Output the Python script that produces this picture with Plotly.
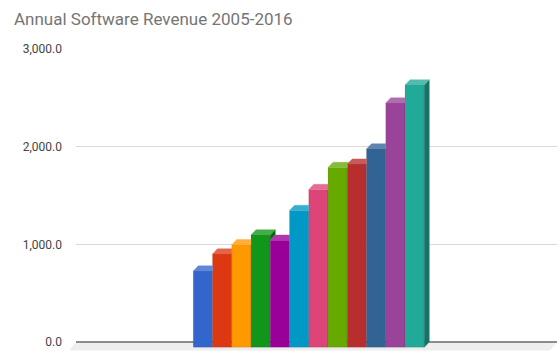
import plotly.graph_objects as go

# ---- data ----
years = [2005, 2006, 2007, 2008, 2009, 2010, 2011, 2012, 2013, 2014, 2015, 2016]
revenue = [780, 955, 1050, 1150, 1095, 1400, 1615, 1840, 1875, 2030, 2500, 2685]
colors = ["#3366cc", "#dc3912", "#ff9900", "#109618", "#990099", "#0099c6",
          "#dd4477", "#66aa00", "#b82e2e", "#316395", "#994499", "#22aa99"]
y_ticks = [0, 1000, 2000, 3000]
title_text = "Annual Software Revenue 2005-2016"

# ---- layout geometry ----
W, H = 560, 356
L, R, T, B = 76, 3, 49, 4
YMAX = 3000
k = (342 - 49) / YMAX                 # px per y unit
ymin = -((H - B) - 342) / k           # extend below zero so the 3D front sits lower
BAR_PX = 19.25                        # px per x unit (bar width = 1)
first_center_px = 202.9
xmin = years[0] - (first_center_px - L) / BAR_PX
xmax = xmin + (W - L - R) / BAR_PX
D = 5.2 / k                           # depth offset in y units
DX = 5.0 / BAR_PX                     # depth offset in x units


def _rgb(h):
    h = h.lstrip("#")
    return [int(h[i:i + 2], 16) for i in (0, 2, 4)]


def shade(h, f):
    r, g, b = _rgb(h)
    return "rgb(%d,%d,%d)" % (r * f, g * f, b * f)


def tint(h, f):
    r, g, b = _rgb(h)
    return "rgb(%d,%d,%d)" % (r + (255 - r) * f, g + (255 - g) * f, b + (255 - b) * f)


fig = go.Figure()

# front faces of the bars
fig.add_trace(go.Bar(
    x=years, y=revenue, base=[-D] * len(years), width=1,
    marker=dict(color=colors, line=dict(color="rgba(0,0,0,0.18)", width=0.5)),
    hoverinfo="skip", showlegend=False,
))

# visible top and side faces (3D effect), computed from the values
n = len(years)
for i, (yr, v, c) in enumerate(zip(years, revenue, colors)):
    x0, x1 = yr - 0.5, yr + 0.5
    vn = revenue[i + 1] if i + 1 < n else 0
    # side face (only the part above the next bar)
    if v > vn:
        xs = [x1, x1 + DX, x1 + DX, x1, x1]
        ys = [vn - D, vn, v, v - D, vn - D]
        fig.add_trace(go.Scatter(x=xs, y=ys, mode="lines", fill="toself",
                                 fillcolor=shade(c, 0.68), line=dict(width=0.4, color=shade(c, 0.68)),
                                 hoverinfo="skip", showlegend=False))
    # top face
    if i + 1 < n and vn > v:
        if vn - D < v:
            xs = [x0, x1, x1, x1 + (v - vn + D) / D * DX, x0 + DX, x0]
            ys = [v - D, v - D, vn - D, v, v, v - D]
        else:
            xs = [x0, x1, x1, x0 + DX, x0]
            ys = [v - D, v - D, v, v, v - D]
    else:
        xs = [x0, x1, x1 + DX, x0 + DX, x0]
        ys = [v - D, v - D, v, v, v - D]
    fig.add_trace(go.Scatter(x=xs, y=ys, mode="lines", fill="toself",
                             fillcolor=tint(c, 0.22), line=dict(width=0.4, color=tint(c, 0.22)),
                             hoverinfo="skip", showlegend=False))

# floor under the baseline
floor_depth_px = 8.5
py0 = (0 - ymin) / (YMAX - ymin)
py1 = (-(floor_depth_px / k) - ymin) / (YMAX - ymin)
pdx = 7.0 / (W - L - R)
fig.add_shape(type="path", xref="paper", yref="paper", layer="below",
              path="M 0 %f L 1 %f L %f %f L %f %f Z" % (py0, py0, 1 - pdx, py1, -pdx, py1),
              fillcolor="#eeeeee", line=dict(width=0))

fig.update_layout(
    width=W, height=H,
    margin=dict(l=L, r=R, t=T, b=B),
    paper_bgcolor="white", plot_bgcolor="white",
    barmode="overlay",
    title=dict(text=title_text, x=14 / W, xanchor="left", xref="container",
               y=1 - 19.5 / H, yanchor="middle", yref="container",
               font=dict(family="Roboto", size=17, color="#757575")),
    xaxis=dict(range=[xmin, xmax], visible=False, showgrid=False, zeroline=False),
    yaxis=dict(range=[ymin, YMAX], tickvals=y_ticks, tickformat=",.1f",
               showgrid=True, gridcolor="#d9d9d9", gridwidth=1,
               zeroline=True, zerolinecolor="#8c8c8c", zerolinewidth=1.5,
               showline=False, ticks="", ticklabelstandoff=13,
               tickfont=dict(family="Roboto", size=12, color="#444444")),
    font=dict(family="Roboto"),
)

fig.write_html("out.html", config={"displayModeBar": False},
               post_script="document.body.style.margin='0';document.body.style.overflow='hidden';")
